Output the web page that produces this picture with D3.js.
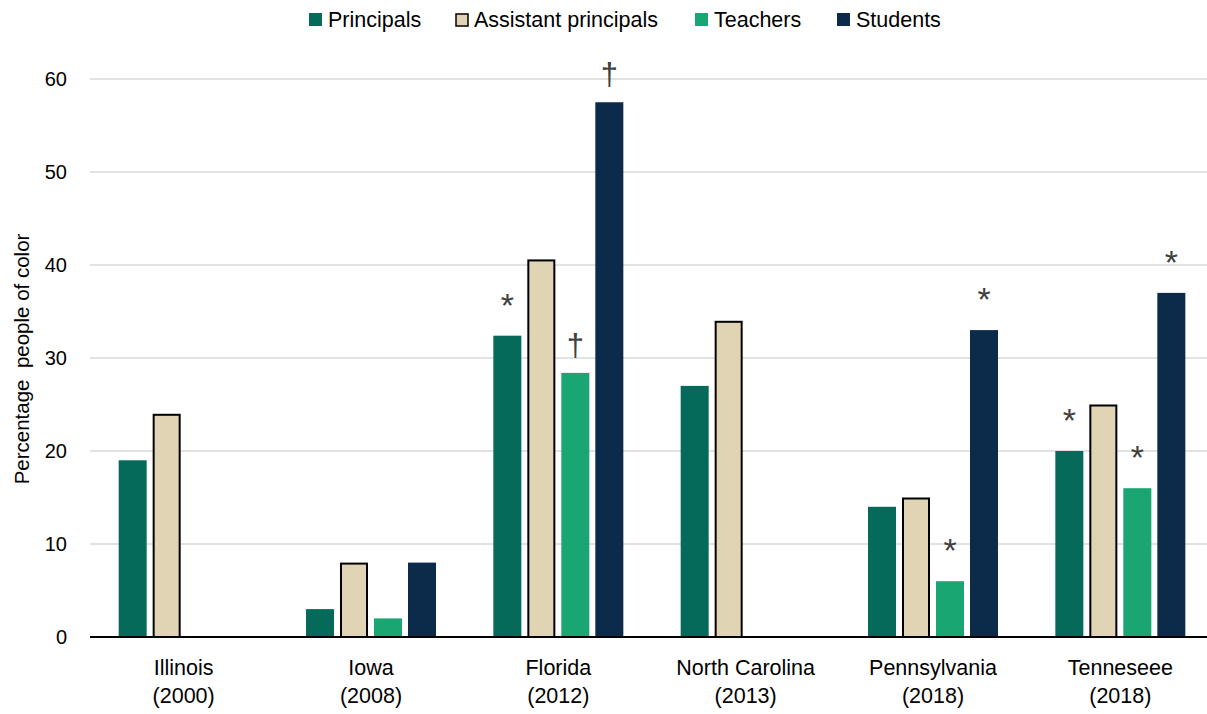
<!DOCTYPE html>
<html>
<head>
<meta charset="utf-8">
<script src="https://cdn.jsdelivr.net/npm/d3@7"></script>
<style>
  html, body { margin: 0; padding: 0; background: #fff; }
  svg { display: block; font-family: "Liberation Sans", Arial, sans-serif; }
</style>
</head>
<body>
<svg id="chart" width="1207" height="714"></svg>
<script>
const categories = ["Illinois|(2000)", "Iowa|(2008)", "Florida|(2012)", "North Carolina|(2013)", "Pennsylvania|(2018)", "Tenneseee|(2018)"];
const seriesNames = ["Principals", "Assistant principals", "Teachers", "Students"];
const principals = [19, 3, 32.4, 27, 14, 20];
const assistantPrincipals = [24, 8, 40.6, 34, 15, 25];
const teachers = [null, 2, 28.4, null, 6, 16];
const students = [null, 8, 57.5, null, 33, 37];
// significance markers per series per category
const principalsMarks = ["", "", "*", "", "", "*"];
const assistantMarks = ["", "", "", "", "", ""];
const teachersMarks = ["", "", "†", "", "*", "*"];
const studentsMarks = ["", "", "†", "", "*", "*"];
const yTicks = [0, 10, 20, 30, 40, 50, 60];

const seriesValues = [principals, assistantPrincipals, teachers, students];
const seriesMarks = [principalsMarks, assistantMarks, teachersMarks, studentsMarks];
const colors = ["#066a5b", "#e0d4b4", "#19a673", "#0c2a4a"];

const svg = d3.select("#chart");
const W = 1207;
const y = d3.scaleLinear().domain([0, 60]).range([637, 79]);
const x0 = d3.scaleBand().domain(categories).range([90, 1214]).padding(0);
const x1 = d3.scaleBand().domain(seriesNames).range([-65, 65]).paddingInner(0.176).paddingOuter(0);

// gridlines
svg.append("g").selectAll("line").data(yTicks.filter(t => t > 0)).join("line")
  .attr("x1", 90).attr("x2", W).attr("y1", d => y(d)).attr("y2", d => y(d))
  .attr("stroke", "#d9d9d9").attr("stroke-width", 1.5);

// y axis tick labels
const yAxis = d3.axisLeft(y).tickValues(yTicks).tickSize(0).tickPadding(0);
const gy = svg.append("g").attr("transform", "translate(67,0)").call(yAxis);
gy.select(".domain").remove();
gy.selectAll("text").attr("font-size", 20).attr("fill", "#000").attr("font-family", "Liberation Sans, Arial, sans-serif");

// bars
const data = [];
categories.forEach((c, ci) => {
  seriesNames.forEach((s, si) => {
    const v = seriesValues[si][ci];
    if (v != null) data.push({c, s, si, v, m: seriesMarks[si][ci]});
  });
});
const cx = c => x0(c) + x0.bandwidth() / 2;
svg.append("g").selectAll("rect").data(data).join("rect")
  .attr("x", d => cx(d.c) + x1(d.s) + (d.si === 1 ? 1 : 0))
  .attr("y", d => y(d.v) + (d.si === 1 ? 1 : 0))
  .attr("width", d => x1.bandwidth() - (d.si === 1 ? 2 : 0))
  .attr("height", d => y(0) - y(d.v) - (d.si === 1 ? 1 : 0))
  .attr("fill", d => colors[d.si])
  .attr("stroke", d => d.si === 1 ? "#000" : "none")
  .attr("stroke-width", 2);

// markers
svg.append("g").selectAll("text").data(data.filter(d => d.m)).join("text")
  .attr("x", d => cx(d.c) + x1(d.s) + x1.bandwidth() / 2)
  .attr("y", d => y(d.v) - (d.m === "*" ? 19 : 17))
  .attr("text-anchor", "middle")
  .attr("font-size", d => d.m === "*" ? 34 : 31)
  .attr("fill", "#404040")
  .text(d => d.m);

// baseline
svg.append("line").attr("x1", 90).attr("x2", W).attr("y1", y(0)).attr("y2", y(0))
  .attr("stroke", "#000").attr("stroke-width", 2);

// x axis labels
const gx = svg.append("g");
categories.forEach(c => {
  const parts = c.split("|");
  const t = gx.append("text").attr("text-anchor", "middle").attr("font-size", 21.5).attr("fill", "#000");
  t.append("tspan").attr("x", cx(c)).attr("y", 675).text(parts[0]);
  t.append("tspan").attr("x", cx(c)).attr("y", 703).text(parts[1]);
});

// y axis title
svg.append("text")
  .attr("transform", "translate(29,359) rotate(-90)")
  .attr("text-anchor", "middle")
  .attr("font-size", 20.5)
  .attr("fill", "#000")
  .attr("xml:space", "preserve")
  .style("white-space", "pre")
  .text("Percentage  people of color");

// legend
const legendX = [309, 455, 695, 837];
const lg = svg.append("g");
seriesNames.forEach((s, i) => {
  const g = lg.append("g").attr("transform", `translate(${legendX[i]},0)`);
  g.append("rect").attr("x", i === 1 ? 1 : 0).attr("y", 13 + (i === 1 ? 1 : 0))
    .attr("width", i === 1 ? 12 : 13).attr("height", i === 1 ? 12 : 13)
    .attr("fill", colors[i]).attr("stroke", i === 1 ? "#000" : "none").attr("stroke-width", 1.5);
  g.append("text").attr("x", 19).attr("y", 27).attr("font-size", 21.5).attr("fill", "#000").text(s);
});
</script>
</body>
</html>
